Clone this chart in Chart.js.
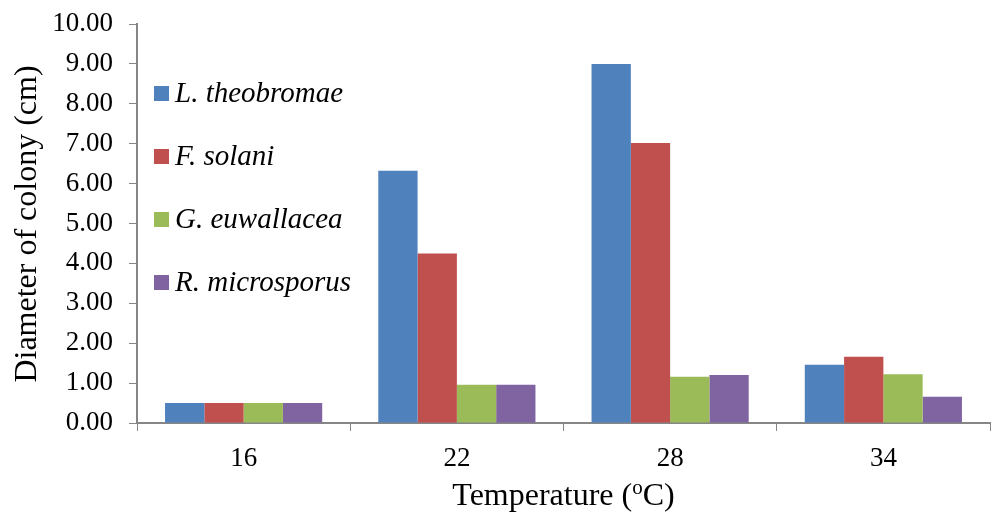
<!DOCTYPE html>
<html>
<head>
<meta charset="utf-8">
<script src="https://cdn.jsdelivr.net/npm/chart.js@4.4.0/dist/chart.umd.min.js"></script>
<style>
  html, body { margin: 0; padding: 0; background: #ffffff; }
  #wrap { width: 992px; height: 516px; }
</style>
</head>
<body>
<div id="wrap"><canvas id="colonyChart" width="992" height="516"></canvas></div>
<script>
// Colony diameter by temperature
const temperatures = ['16', '22', '28', '34'];
const theobromae = [0.50, 6.32, 9.00, 1.46];
const solani = [0.50, 4.25, 7.02, 1.66];
const euwallacea = [0.50, 0.96, 1.16, 1.22];
const microsporus = [0.50, 0.96, 1.20, 0.66];
const seriesNames = ['L. theobromae', 'F. solani', 'G. euwallacea', 'R. microsporus'];
const seriesColors = ['#4F81BD', '#C0504D', '#9BBB59', '#8064A2'];

const serif = '"Liberation Serif", "Times New Roman", serif';

// Legend drawn inside the plot area, like the original
const innerLegend = {
    id: 'innerLegend',
    afterDraw(chart) {
        const ctx = chart.ctx;
        const area = chart.chartArea;
        ctx.save();
        ctx.font = 'italic 29px ' + serif;
        ctx.textBaseline = 'middle';
        chart.data.datasets.forEach((ds, i) => {
            const y = 93 + i * 63;
            ctx.fillStyle = ds.backgroundColor;
            ctx.fillRect(area.left + 17, y - 7, 15, 15);
            ctx.fillStyle = '#000000';
            ctx.fillText(ds.label, area.left + 38, y + 1);
        });
        ctx.restore();
    }
};

// Axis titles (x title has a superscript o)
const axisTitles = {
    id: 'axisTitles',
    afterDraw(chart) {
        const ctx = chart.ctx;
        const area = chart.chartArea;
        ctx.save();
        ctx.fillStyle = '#000000';
        ctx.textBaseline = 'middle';

        // y title
        ctx.save();
        ctx.font = '32px ' + serif;
        ctx.translate(28, 224);
        ctx.rotate(-Math.PI / 2);
        ctx.textAlign = 'center';
        ctx.fillText('Diameter of colony (cm)', 0, 0);
        ctx.restore();

        // x title
        const part1 = 'Temperature (';
        const sup = 'o';
        const part2 = 'C)';
        ctx.textAlign = 'left';
        ctx.font = '32px ' + serif;
        const w1 = ctx.measureText(part1).width;
        const w3 = ctx.measureText(part2).width;
        ctx.font = '21px ' + serif;
        const w2 = ctx.measureText(sup).width;
        const total = w1 + w2 + w3;
        const cx = (area.left + area.right) / 2;
        let x = cx - total / 2;
        const y = 497;
        ctx.font = '32px ' + serif;
        ctx.fillText(part1, x, y);
        x += w1;
        ctx.font = '21px ' + serif;
        ctx.fillText(sup, x, y - 9);
        x += w2;
        ctx.font = '32px ' + serif;
        ctx.fillText(part2, x, y);
        ctx.restore();
    }
};

const dataSets = [theobromae, solani, euwallacea, microsporus].map((vals, i) => ({
    label: seriesNames[i],
    data: vals,
    backgroundColor: seriesColors[i],
    borderWidth: 0,
    barPercentage: 1.0,
    categoryPercentage: 0.737
}));

new Chart(document.getElementById('colonyChart'), {
    type: 'bar',
    data: { labels: temperatures, datasets: dataSets },
    options: {
        responsive: false,
        animation: false,
        devicePixelRatio: 1,
        layout: { padding: { top: 24, right: 2, left: 0, bottom: 0 } },
        plugins: {
            legend: { display: false },
            tooltip: { enabled: false }
        },
        scales: {
            x: {
                afterFit(scale) { scale.height = 93; },
                grid: {
                    offset: true,
                    drawOnChartArea: false,
                    drawTicks: true,
                    tickLength: 8,
                    color: '#868686'
                },
                border: { display: true, color: '#868686', width: 2 },
                ticks: {
                    color: '#000000',
                    padding: 12,
                    font: { family: serif, size: 27 }
                }
            },
            y: {
                min: 0,
                max: 10,
                afterFit(scale) {
                    scale.width = 137;
                    scale.paddingTop = 0;
                    scale.paddingBottom = 0;
                },
                grid: {
                    drawOnChartArea: false,
                    drawTicks: true,
                    tickLength: 8,
                    color: '#868686'
                },
                border: { display: true, color: '#868686', width: 2 },
                ticks: {
                    stepSize: 1,
                    color: '#000000',
                    padding: 16,
                    font: { family: serif, size: 27 },
                    callback: v => Number(v).toFixed(2)
                }
            }
        }
    },
    plugins: [innerLegend, axisTitles]
});
</script>
</body>
</html>
